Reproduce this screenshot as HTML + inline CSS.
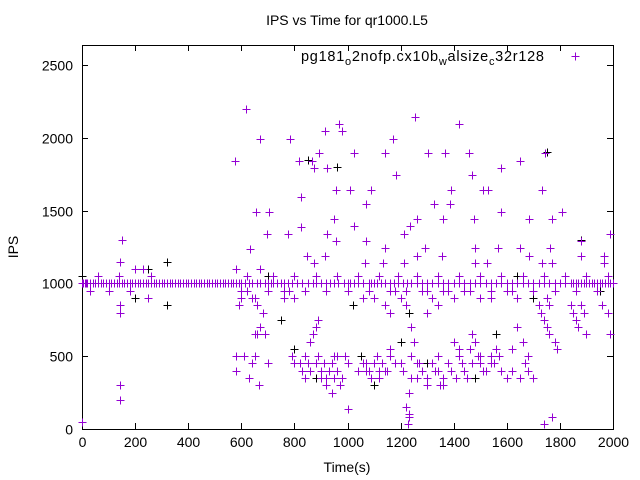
<!DOCTYPE html>
<html><head><meta charset="utf-8"><style>
body{margin:0;background:#fff;width:640px;height:480px;overflow:hidden}
svg{display:block;font-family:"Liberation Sans",sans-serif}
</style></head><body>
<svg id="chart" width="640" height="480" viewBox="0 0 640 480">
<text x="347" y="25" font-size="14" text-anchor="middle">IPS vs Time for qr1000.L5</text>
<text x="18" y="247" font-size="14" text-anchor="middle" transform="rotate(-90 18 247)">IPS</text>
<text x="347" y="472" font-size="14" text-anchor="middle">Time(s)</text>
<g id="axes"></g>
<g id="marks"></g>
<g>
<text x="301" y="61" font-size="14.5" textLength="243" lengthAdjust="spacing">pg181<tspan font-size="11" dy="4">o</tspan><tspan dy="-4">2nofp.cx10b</tspan><tspan font-size="11" dy="4">w</tspan><tspan dy="-4">alsize</tspan><tspan font-size="11" dy="4">c</tspan><tspan dy="-4">32r128</tspan></text>
<path d="M571.5 56.5h8M575.5 52.5v8" stroke="#9400d3" stroke-width="1"/>
</g>
</svg>
<script>
const xTicks=[0,200,400,600,800,1000,1200,1400,1600,1800,2000];
const yTicks=[0,500,1000,1500,2000,2500];
const bandTimes=[0,5,10,15,20,30,40,50,60,70,80,90,100,110,120,130,140,150,160,170,180,190,200,210,220,230,240,250,260,270,280,290,300,310,320,330,340,350,360,370,380,390,400,410,420,430,440,450,460,470,480,490,500,510,520,530,540,550,560,570,580,590,600,615,630,640,660,670,690,700,710,720,735,750,760,775,790,810,830,850,870,880,900,920,935,950,965,985,1000,1010,1025,1040,1060,1080,1090,1100,1110,1125,1140,1160,1175,1190,1210,1225,1240,1260,1280,1300,1320,1340,1360,1380,1400,1420,1440,1460,1480,1500,1520,1540,1560,1580,1600,1620,1640,1660,1680,1700,1720,1740,1760,1780,1800,1820,1840,1850,1860,1870,1880,1890,1900,1910,1920,1930,1940,1950,1960,1970,1980,1990,2000];
const bandValue=1000;
const purpleTimes=[0,145,145,145,145,150,145,200,230,260,250,618,670,783,576,817,866,874,923,893,915,968,979,1024,957,1009,1088,825,1070,1141,1171,1254,1303,1183,655,704,949,1024,1262,1235,697,776,825,923,957,1070,633,1141,1213,1292,847,915,1262,874,1066,1134,1213,1002,1228,1232,1420,1303,1367,1458,1744,1650,1578,1469,1390,1510,1529,1733,1326,1386,1360,1477,1578,1684,1770,1808,1989,1292,1480,1567,1650,1763,1880,1356,1684,1880,1966,1480,1525,1733,1770,1966,1770,1740,
600,590,620,640,660,680,700,650,660,670,580,610,640,650,580,700,690,665,630,760,780,800,790,800,820,840,860,880,900,900,920,940,950,960,980,990,860,870,880,890,920,940,950,970,1000,1040,1060,1070,1090,1100,1110,1120,1140,1160,1180,1160,1060,1080,1100,1140,1160,1180,1200,1220,1240,1250,1240,1260,1240,1230,1220,1230,1280,1300,1300,1320,1340,1340,1360,1360,1380,1390,1400,1420,1420,1430,1440,1450,1460,1470,1480,1500,1500,1520,1540,1540,1560,1580,1600,1620,1640,1660,1680,1680,1700,1720,1730,1740,1750,1760,1780,1790,1750,1760,1840,1850,1860,1870,1880,1890,1900,1960,1980,1990,1700,1640,1600,1540,1500,1440,1400,1360,1320,1280,1300,1340,
30,60,100,140,180,580,600,620,650,670,700,720,760,800,840,880,920,960,1000,1040,1080,1120,1160,1190,1220,1260,1300,1340,1380,1420,1460,1500,1540,1580,1620,1660,1700,1740,1780,1820,1860,1900,1940,1980,
820,830,840,850,890,900,910,930,960,1070,1080,1090,1120,1130,1150,1200,1210,1260,1270,1330,1350,1380,1410,1440,1470,1490,1510,1550,1570,1620,1650,1670];
const purpleValues=[50,300,200,850,800,1300,1150,1100,1100,1050,900,2196,1990,1990,1840,1840,1840,1790,1790,1895,2047,2095,2047,1895,1641,1641,1641,1593,1545,1895,1990,2142,1895,1745,1490,1490,1442,1394,1442,1394,1339,1339,1387,1339,1291,1291,1236,1243,1339,1243,1188,1188,1188,1140,1140,1140,1140,137,34,82,2095,1895,1895,1895,1895,1840,1790,1745,1641,1641,1641,1641,1545,1545,1442,1442,1490,1442,1442,1490,1339,1243,1243,1243,1243,1243,1291,1188,1188,1188,1188,1140,1140,1140,1140,1140,82,34,
900,850,950,900,850,800,950,650,650,700,500,500,450,500,400,450,650,300,350,900,950,900,500,450,450,500,400,450,400,350,350,450,500,400,350,500,600,650,700,750,300,250,350,300,450,400,450,400,350,450,500,350,400,500,450,550,900,950,900,850,800,950,900,850,700,600,500,450,350,250,150,100,400,350,300,450,500,400,350,300,450,400,600,550,500,450,400,350,550,650,600,500,450,400,500,450,550,400,350,550,700,600,500,400,350,850,800,750,700,650,600,550,900,850,850,800,750,700,850,800,650,850,800,650,950,900,950,900,900,950,900,950,900,950,800,850,
950,1050,950,1050,950,1100,950,1050,900,1100,950,1050,950,1050,950,1050,950,1050,950,1050,950,1050,950,1050,950,1050,950,1050,950,1050,950,1050,950,1050,950,1050,950,1050,950,1050,950,1050,950,1050,
450,400,350,450,500,350,450,400,500,450,400,350,400,450,400,450,400,350,450,400,300,450,350,400,450,500,400,450,500,400,350,450];
const blackTimes=[0,150,320,320,250,200,700,750,800,850,1000,1020,1050,1100,1200,1230,1300,1480,1560,1640,1700,1750,1880,1950,960,1160,880];
const blackValues=[1050,1300,1150,850,1100,900,1050,750,550,1850,1000,850,500,300,600,800,450,350,650,1050,900,1900,1300,950,1800,500,350];
const X0=82,X1=613,Y0=429,Y1=65,FRAME_TOP=45;
const xs=t=>X0+t*(X1-X0)/2000;
const ys=v=>Y0-v*(Y0-Y1)/2500;
const NS="http://www.w3.org/2000/svg";
const axes=document.getElementById('axes'),marks=document.getElementById('marks');
function mk(tag,attrs,parent){const e=document.createElementNS(NS,tag);for(const k in attrs)e.setAttribute(k,attrs[k]);parent.appendChild(e);return e;}
const frame=mk('rect',{x:X0+0.5,y:FRAME_TOP+0.5,width:X1-X0,height:Y0-FRAME_TOP,fill:'none',stroke:'#000','stroke-width':1},axes);


xTicks.forEach(t=>{const x=Math.round(xs(t))+0.5;
 const tk=mk('path',{d:`M${x} ${Y0}v-6M${x} ${FRAME_TOP}v6`,stroke:'#000'},axes);
 
 
 const lb=mk('text',{x:x,y:Y0+18,'font-size':14,'text-anchor':'middle'},axes);lb.textContent=t;
 
 });
yTicks.forEach(v=>{const y=Math.round(ys(v))+0.5;
 const tk=mk('path',{d:`M${X0} ${y}h6M${X1} ${y}h-6`,stroke:'#000'},axes);
 
 
 const lb=mk('text',{x:X0-9,y:y+5,'font-size':14,'text-anchor':'end'},axes);lb.textContent=v;
 
 });
function plus(t,v,c,name){const x=Math.round(xs(t))+0.5,y=Math.round(ys(v))+0.5;
 const p=mk('path',{d:`M${x-4} ${y}h8M${x} ${y-4}v8`,stroke:c,'stroke-width':1},marks);
 
 }
blackTimes.forEach((t,i)=>plus(t,blackValues[i],'#000','point-black'));
bandTimes.forEach(t=>plus(t,bandValue,'#9400d3','point-baseline'));
purpleTimes.forEach((t,i)=>plus(t,purpleValues[i],'#9400d3','point-purple'));
</script>
</body></html>
